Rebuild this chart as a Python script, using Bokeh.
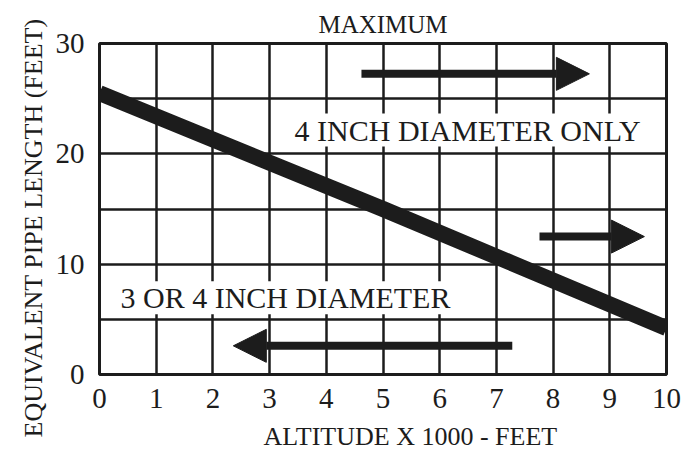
from bokeh.plotting import figure
from bokeh.models import FixedTicker, Arrow, NormalHead, ColumnDataSource, Title, LabelSet
from bokeh.embed import file_html
from bokeh.resources import INLINE

# ---- data ----
altitude_ticks = [0, 1, 2, 3, 4, 5, 6, 7, 8, 9, 10]
length_ticks = [0, 10, 20, 30]
length_grid = [0, 5, 10, 15, 20, 25, 30]

curve_alt = [0, 5, 10]
curve_len = [25.5, 15.0, 4.2]

arrow_x_start = [4.62, 7.76, 7.28]
arrow_x_end = [8.64, 9.61, 2.36]
arrow_y = [27.25, 12.5, 2.6]

label_text = ["4 INCH DIAMETER ONLY", "3 OR 4 INCH DIAMETER"]
label_x = [3.44, 0.37]
label_y = [21.2, 6.0]

top_title = "MAXIMUM"
x_title = "ALTITUDE X 1000 - FEET"
y_title = "EQUIVALENT PIPE LENGTH (FEET)"

FONT = "Liberation Serif"
INK = "#1c1c1c"

p = figure(width=698, height=452, x_range=(0, 10), y_range=(0, 30),
           output_backend="svg", toolbar_location=None,
           min_border_left=99, min_border_right=32,
           min_border_top=43, min_border_bottom=75)
p.background_fill_color = "white"
p.border_fill_color = "white"
p.outline_line_color = INK
p.outline_line_width = 3

# top title
p.title.text = top_title
p.title.align = "center"
p.title.text_font = FONT
p.title.text_font_size = "25px"
p.title.text_font_style = "normal"
p.title.text_color = INK
p.title.standoff = 12

# axes
p.xaxis.ticker = FixedTicker(ticks=altitude_ticks)
p.yaxis.ticker = FixedTicker(ticks=length_ticks)
for ax in (p.xaxis, p.yaxis):
    ax.axis_line_color = None
    ax.major_tick_line_color = None
    ax.minor_tick_line_color = None
    ax.major_label_text_font = FONT
    ax.major_label_text_font_size = "29px"
    ax.major_label_text_color = INK
p.xaxis.major_label_standoff = 8
p.yaxis.major_label_standoff = 9

# grid
p.xgrid.ticker = FixedTicker(ticks=altitude_ticks)
p.ygrid.ticker = FixedTicker(ticks=length_grid)
for g in (p.xgrid, p.ygrid):
    g.grid_line_color = INK
    g.grid_line_width = 2.5
    g.grid_line_alpha = 1.0

# axis titles
p.add_layout(Title(text=x_title, align="left", offset=164, text_font=FONT,
                   text_font_size="26px", text_font_style="normal",
                   text_color=INK, standoff=0, vertical_align="top",
                   padding=dict(left=0, right=0, top=11, bottom=0)), "below")
p.add_layout(Title(text=y_title, align="left", offset=-63, text_font=FONT,
                   text_font_size="26px", text_font_style="normal",
                   text_color=INK, standoff=10), "left")

# thick curve
p.line(curve_alt, curve_len, line_width=16, line_color=INK, line_cap="butt")

# arrows
arrow_src = ColumnDataSource(dict(x0=arrow_x_start, x1=arrow_x_end, y=arrow_y))
p.add_layout(Arrow(end=NormalHead(size=33, fill_color=INK, line_color=INK, line_width=1),
                   x_start="x0", y_start="y", x_end="x1", y_end="y",
                   source=arrow_src, line_width=8, line_color=INK))

# region labels
lab_src = ColumnDataSource(dict(x=label_x, y=label_y, t=label_text))
p.add_layout(LabelSet(x="x", y="y", text="t", source=lab_src,
                      text_font=FONT, text_font_size="30px", text_color=INK,
                      text_baseline="alphabetic", text_align="left",
                      background_fill_color="white"))

open("out.html", "w").write(file_html(p, INLINE))
